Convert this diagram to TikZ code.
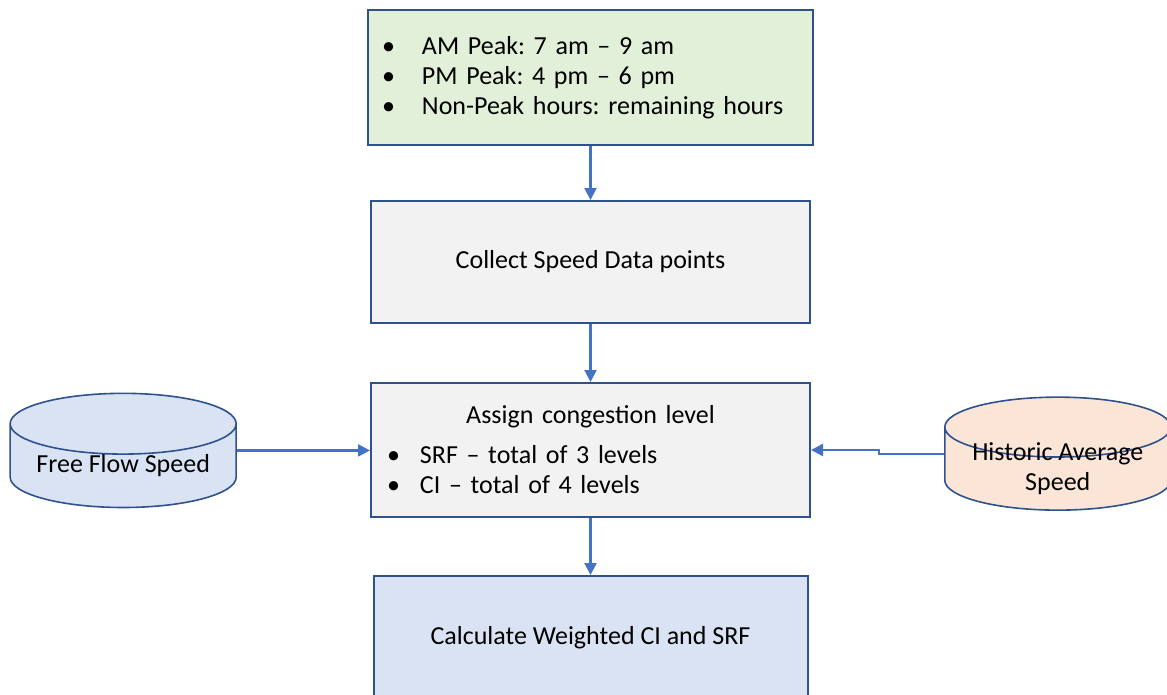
\documentclass[tikz,border=0pt]{standalone}
\usepackage{fontspec}
\setmainfont{Carlito}
\usetikzlibrary{arrows.meta, positioning, shapes.geometric}

\definecolor{boxline}{RGB}{47,82,143}
\definecolor{arrowblue}{RGB}{68,114,196}
\definecolor{greenfill}{RGB}{226,240,217}
\definecolor{grayfill}{RGB}{242,242,242}
\definecolor{bluefill}{RGB}{218,227,243}
\definecolor{peachfill}{RGB}{251,229,214}

\frenchspacing
\newcommand{\bul}[1]{\makebox[#1][l]{\hspace{-6pt}\textbullet}}

\begin{document}
\begin{tikzpicture}[
    x=1pt, y=1pt,
    >={Triangle[length=12pt,width=12pt]},
    node distance=54pt and 133pt,
    font=\fontsize{26}{30}\selectfont,
    % Define styles for the different node types
    greenbox/.style={rectangle, draw=boxline, fill=greenfill, line width=2pt, minimum width=445pt, minimum height=135pt, inner sep=0pt, text width=405pt, align=left},
    graybox/.style={rectangle, draw=boxline, fill=grayfill, line width=2pt, minimum width=439pt, inner sep=0pt},
    bluebox/.style={rectangle, draw=boxline, fill=bluefill, line width=2pt, minimum width=434pt, minimum height=124pt, inner sep=0pt},
    dbcyl/.style={cylinder, shape border rotate=90, aspect=0.35, draw=boxline, line width=1.6pt, minimum width=226pt, minimum height=113pt, inner sep=0pt, align=center},
    link/.style={->, draw=arrowblue, line width=2.2pt},
]
\useasboundingbox (0,0) rectangle (1167,-694);

% -------------------------
% Main Flow Nodes
% -------------------------
\node (timebox) [greenbox] at (590.5,-77.5) {\bul{34pt}AM Peak: 7 am \textendash{} 9 am\\
\bul{34pt}PM Peak: 4 pm \textendash{} 6 pm\\
\bul{34pt}Non-Peak hours: remaining hours};
\node (collect) [graybox, minimum height=122pt, below=54pt of timebox] {Collect Speed Data points};
\node (assign) [graybox, minimum height=134pt, text width=395pt, below=58pt of collect] {\centering Assign congestion level\par
\raggedright\vspace{10pt}\bul{27pt}SRF \textendash{} total of 3 levels\\
\bul{27pt}CI \textendash{} total of 4 levels\par\vspace{12pt}};
\node (calc) [bluebox, below=57pt of assign] {Calculate Weighted CI and SRF};

% Side Data Sources
\node (freeflow) [dbcyl, fill=bluefill, left=of assign, yshift=-16pt] {Free Flow Speed};
\node (historic) [dbcyl, fill=peachfill, right=of assign, yshift=-19pt] {\smash{\raisebox{-7pt}{\begin{tabular}[c]{@{}c@{}}Historic Average\\Speed\end{tabular}}}};

% -------------------------
% Arrow Connections
% -------------------------
\draw[link] (timebox) -- (collect);
\draw[link] (collect) -- (assign);
\draw[link] (assign) -- (calc);

% Data sources into assignment
\draw[link] (freeflow.east |- freeflow.shape center) -- (assign.west |- freeflow.shape center);
\draw[link] (historic.west |- historic.shape center) -- ++(-65,0) |- (assign.east);

\end{tikzpicture}
\end{document}
